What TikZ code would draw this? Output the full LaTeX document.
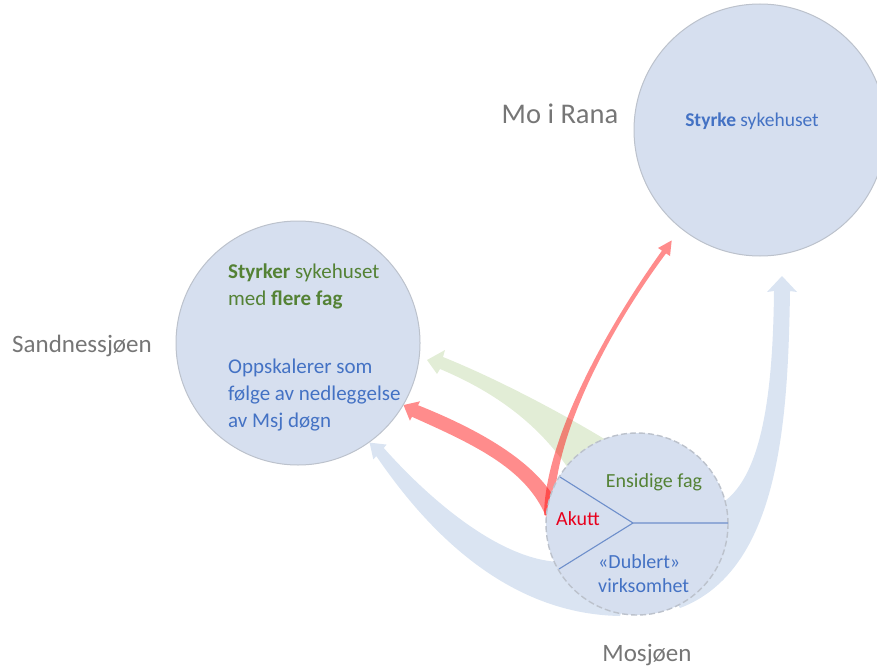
\documentclass[tikz,border=0pt]{standalone}
\usepackage{fontspec}
\setmainfont{Carlito}
\usetikzlibrary{shapes.geometric}
\definecolor{circfill}{HTML}{D6DFEF}
\definecolor{circline}{HTML}{BCC2CC}
\definecolor{txtgreen}{HTML}{548235}
\definecolor{txtblue}{HTML}{4472C4}
\definecolor{txtred}{HTML}{E8001C}
\definecolor{labgray}{HTML}{767676}
\definecolor{arrgreen}{HTML}{E2EDD6}
\definecolor{arrblue}{HTML}{DAE4F2}
\definecolor{divline}{HTML}{6E8FCB}
\begin{document}
\begin{tikzpicture}[x=1pt,y=-1pt,
  bigcirc/.style={circle,fill=circfill,draw=circline,line width=1pt,inner sep=0pt},
  smallcirc/.style={circle,fill=circfill,draw=circline,line width=1.4pt,dash pattern=on 6pt off 3pt,inner sep=0pt},
  placelabel/.style={text=labgray,inner sep=0pt,anchor=base},
  intext/.style={inner sep=0pt,anchor=base west,font=\fontsize{21}{27}\selectfont},
  mtext/.style={inner sep=0pt,font=\fontsize{20}{24}\selectfont},
  redarrow/.style={fill=red,fill opacity=0.45},
  divider/.style={draw=divline,line width=1.1pt}]
\useasboundingbox (0,0) rectangle (877,666);
\clip (0,0) rectangle (877,666);

% arrow tips (free ends)
\coordinate (tipBS) at (369.6,442.6);
\coordinate (tipBM) at (782,276);
\coordinate (tipG) at (427,360);
\coordinate (tipRS) at (403.5,405);
\coordinate (tipRM) at (671.7,240.4);

% blue arrow to Sandnessjoen
\fill[arrblue] (560,562) .. controls (500,560) and (430,500) .. (383.7,447.9)
  -- (386.7,444.6) -- (tipBS) -- (373.3,459.4) -- (376.3,456.1)
  .. controls (420,520) and (500,614) .. (620,616) -- (640,560) -- cycle;
% blue arrow to Mo i Rana
\fill[arrblue] (722,503) .. controls (765,475) and (773,380) .. (774,291)
  -- (767,292) -- (tipBM) -- (797,292) -- (790,291)
  .. controls (788,420) and (780,570) .. (680,608) -- (650,560) -- cycle;
% green arrow to Sandnessjoen
\fill[arrgreen] (606,440) .. controls (565,415) and (500,380) .. (443,357)
  -- (445,350) -- (tipG) -- (437,374) -- (440,369)
  .. controls (490,390) and (535,420) .. (568,468) -- (600,480) -- cycle;
% red arrow to Sandnessjoen
\fill[redarrow] (418,405.2) .. controls (475,428) and (530,458) .. (554,497)
  -- (560,520) -- (548,522)
  .. controls (530,470) and (475,445) .. (412,416.8)
  -- (409.9,420.7) -- (tipRS) -- (420.1,401.3) -- cycle;
% red arrow to Mo i Rana
\fill[redarrow] (544,515) .. controls (545,440) and (605,330) .. (662,250.6)
  -- (658,248) -- (tipRM) -- (670,256) -- (666,253.4)
  .. controls (606,334) and (552,440) .. (554,515) -- cycle;

% circles
\node[bigcirc,minimum size=252pt] (mo) at (760,130) {};
\node[bigcirc,minimum size=244pt] (sa) at (298,343) {};
\node[smallcirc,minimum size=182pt] (ms) at (637,524) {};

% dividers in Mosjoen
\coordinate (junc) at (633,523);
\coordinate (divR) at (728,523);
\coordinate (divU) at (560,477);
\coordinate (divL) at (559,569);
\draw[divider] (divR) -- (junc) -- (divU);
\draw[divider] (junc) -- (divL);

% place labels
\node[placelabel,font=\fontsize{28.5}{32}\selectfont] (lmo) at (560,123) {Mo i Rana};
\node[placelabel,font=\fontsize{25}{30}\selectfont] (lsa) at (82,352) {Sandnessjøen};
\node[placelabel,font=\fontsize{25}{30}\selectfont] (lms) at (647,661) {Mosjøen};

% Mo i Rana text
\node[inner sep=0pt,anchor=base,text=txtblue,font=\fontsize{19.5}{24}\selectfont] (tmo) at (752,127) {\textbf{Styrke} sykehuset};

% Sandnessjoen text
\node[intext,text=txtgreen] (s1) at (228,278) {\textbf{Styrker} sykehuset};
\node[intext,text=txtgreen] (s2) at (228,305) {med \textbf{flere fag}};
\node[intext,text=txtblue] (s3) at (228,373) {Oppskalerer som};
\node[intext,text=txtblue] (s4) at (228,400) {følge av nedleggelse};
\node[intext,text=txtblue] (s5) at (228,427) {av Msj døgn};

% Mosjoen text
\node[mtext,anchor=base,text=txtgreen] (m1) at (654,487) {Ensidige fag};
\node[mtext,anchor=base,text=txtred] (m2) at (578,525) {Akutt};
\node[mtext,anchor=base west,text=txtblue] (m3) at (598,568) {«Dublert»};
\node[mtext,anchor=base west,text=txtblue] (m4) at (598,592) {virksomhet};
\end{tikzpicture}
\end{document}
